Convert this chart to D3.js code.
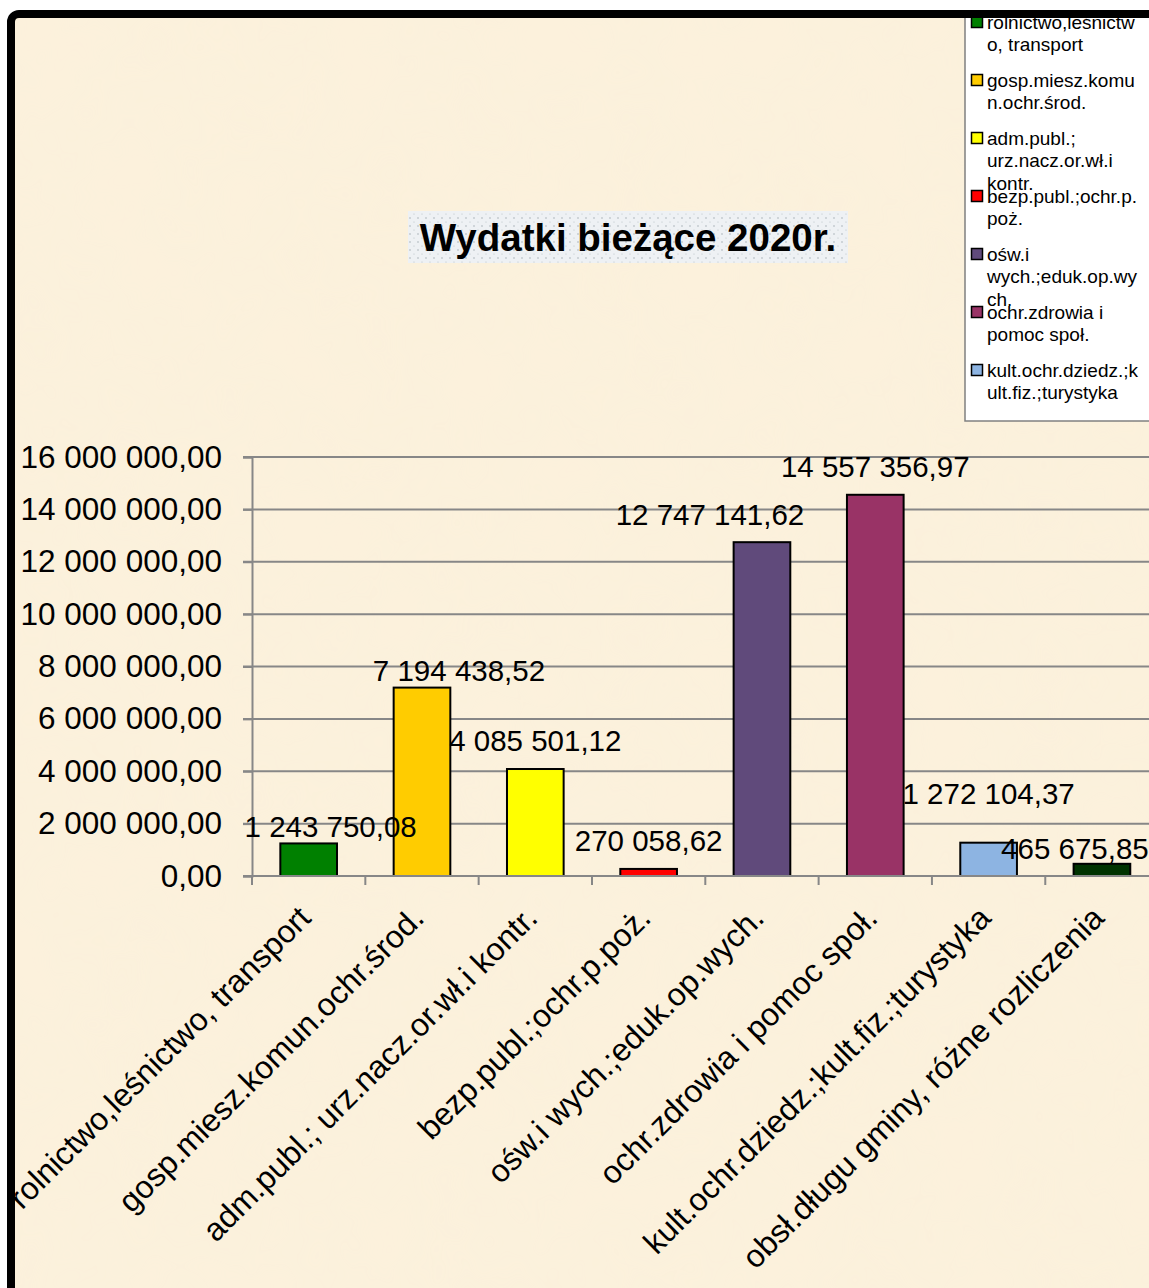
<!DOCTYPE html>
<html>
<head>
<meta charset="utf-8">
<script src="https://cdn.jsdelivr.net/npm/d3@7"></script>
<style>
  body { margin: 0; background: #ffffff; }
  svg { display: block; }
  text { font-family: "Liberation Sans", Arial, sans-serif; fill: #000; }
</style>
</head>
<body>
<script>
var W = 1149, H = 1288;

// data
var categories = [
    'rolnictwo,leśnictwo, transport',
    'gosp.miesz.komun.ochr.środ.',
    'adm.publ.; urz.nacz.or.wł.i kontr.',
    'bezp.publ.;ochr.p.poż.',
    'ośw.i wych.;eduk.op.wych.',
    'ochr.zdrowia i pomoc społ.',
    'kult.ochr.dziedz.;kult.fiz.;turystyka',
    'obsł.długu gminy, różne rozliczenia'
];
var values = [1243750.08, 7194438.52, 4085501.12, 270058.62, 12747141.62, 14557356.97, 1272104.37, 465675.85];
var barColors = ['#008000', '#ffcc00', '#ffff00', '#ff0000', '#604a7b', '#993366', '#8db4e2', '#003300'];
var yMax = 16000000;
var title = 'Wydatki bieżące 2020r.';

// hand-moved data labels (px offsets from default spot above bar)
var labelNudge = [[22, 11], [37, 11], [0, 0], [0, 0], [-52, 0], [0, 0], [0, -21], [-27, 13]];

var plot = { left: 252, right: 1158.6, top: 457, bottom: 876 };

var pl = d3.formatLocale({ decimal: ',', thousands: ' ', grouping: [3], currency: ['', ''] });
var fmt = pl.format(',.2f');

var svg = d3.select('body').append('svg')
    .attr('width', W)
    .attr('height', H);

var defs = svg.append('defs');

defs.append('clipPath').attr('id', 'frameClip')
    .append('rect')
    .attr('x', 11).attr('y', 14)
    .attr('width', W + 20).attr('height', H + 20)
    .attr('rx', 8);

// parchment texture
var paper = defs.append('filter').attr('id', 'paper')
    .attr('x', 0).attr('y', 0).attr('width', '100%').attr('height', '100%');
paper.append('feTurbulence')
    .attr('type', 'fractalNoise')
    .attr('baseFrequency', 0.012)
    .attr('numOctaves', 3)
    .attr('seed', 4)
    .attr('result', 'noise');
paper.append('feColorMatrix')
    .attr('in', 'noise')
    .attr('type', 'matrix')
    .attr('values', '0 0 0 0 0.93  0 0 0 0 0.86  0 0 0 0 0.70  0 0 0 0.22 0')
    .attr('result', 'tint');
paper.append('feComposite').attr('in', 'tint').attr('in2', 'SourceGraphic').attr('operator', 'in');

// dotted title backdrop
var dots = defs.append('pattern').attr('id', 'dots')
    .attr('width', 8).attr('height', 8)
    .attr('patternUnits', 'userSpaceOnUse');
dots.append('rect').attr('width', 8).attr('height', 8).attr('fill', '#eef1f4');
dots.append('circle').attr('cx', 2).attr('cy', 2).attr('r', 0.7).attr('fill', '#9aa3ab');
dots.append('circle').attr('cx', 6).attr('cy', 6).attr('r', 0.6).attr('fill', '#b8c0c6');

var inner = svg.append('g').attr('clip-path', 'url(#frameClip)');

inner.append('rect')
    .attr('x', 0).attr('y', 0).attr('width', W).attr('height', H)
    .attr('fill', '#fcf1dc');
inner.append('rect')
    .attr('x', 0).attr('y', 0).attr('width', W).attr('height', H)
    .attr('fill', '#fff')
    .attr('filter', 'url(#paper)');

var x = d3.scaleBand()
    .domain(categories)
    .range([plot.left, plot.right])
    .paddingInner(0.5)
    .paddingOuter(0.25);

var y = d3.scaleLinear()
    .domain([0, yMax])
    .range([plot.bottom, plot.top]);

var gridColor = '#878787';

// gridlines
inner.append('g')
    .selectAll('line')
    .data(y.ticks(8))
    .enter()
    .append('line')
    .attr('x1', plot.left - 9)
    .attr('x2', plot.right)
    .attr('y1', function(d) { return y(d); })
    .attr('y2', function(d) { return y(d); })
    .attr('stroke', gridColor)
    .attr('stroke-width', 2);

// y axis
var yAxis = inner.append('g')
    .attr('transform', `translate(${plot.left}, 0)`)
    .call(d3.axisLeft(y).ticks(8).tickFormat(fmt).tickSize(9).tickPadding(21));
yAxis.select('.domain').attr('stroke', gridColor).attr('stroke-width', 2);
yAxis.selectAll('.tick line').attr('stroke', gridColor).attr('stroke-width', 2);
yAxis.selectAll('.tick text')
    .style('font-family', '"Liberation Sans", Arial, sans-serif')
    .style('font-size', '31.5px')
    .attr('fill', '#000');

// x axis ticks at band edges
var edges = categories.map(function(c) { return x(c) - x.step() * 0.25; });
edges.push(plot.right);
inner.append('g')
    .selectAll('line')
    .data(edges)
    .enter()
    .append('line')
    .attr('x1', function(d) { return d; })
    .attr('x2', function(d) { return d; })
    .attr('y1', plot.bottom)
    .attr('y2', plot.bottom + 9)
    .attr('stroke', gridColor)
    .attr('stroke-width', 2);

// bars
inner.append('g')
    .selectAll('rect')
    .data(values)
    .enter()
    .append('rect')
    .attr('x', function(d, i) { return x(categories[i]); })
    .attr('y', function(d) { return y(d); })
    .attr('width', x.bandwidth())
    .attr('height', function(d) { return y(0) - y(d); })
    .attr('fill', function(d, i) { return barColors[i]; })
    .attr('stroke', '#000')
    .attr('stroke-width', 2);

// x axis line
inner.append('line')
    .attr('x1', plot.left - 9).attr('x2', plot.right)
    .attr('y1', plot.bottom).attr('y2', plot.bottom)
    .attr('stroke', gridColor).attr('stroke-width', 2);

// data labels
inner.append('g')
    .selectAll('text')
    .data(values)
    .enter()
    .append('text')
    .attr('x', function(d, i) { return x(categories[i]) + x.bandwidth() / 2 + labelNudge[i][0]; })
    .attr('y', function(d, i) { return y(d) - 28 + labelNudge[i][1]; })
    .attr('dy', '0.35em')
    .attr('text-anchor', 'middle')
    .style('font-size', '29.5px')
    .text(function(d) { return fmt(d); });

// category labels
inner.append('g')
    .selectAll('text')
    .data(categories)
    .enter()
    .append('text')
    .attr('transform', function(d) {
        return `translate(${x(d) + x.bandwidth() / 2 - 4}, ${plot.bottom + 36}) rotate(-45)`;
    })
    .attr('text-anchor', 'end')
    .attr('dy', '0.35em')
    .style('font-size', '32px')
    .text(function(d) { return d; });

// title
inner.append('rect')
    .attr('x', 408).attr('y', 211).attr('width', 440).attr('height', 52)
    .attr('fill', 'url(#dots)');
inner.append('text')
    .attr('x', 628).attr('y', 251)
    .attr('text-anchor', 'middle')
    .style('font-size', '38.5px')
    .style('font-weight', 700)
    .text(title);

// legend (only the first seven entries fit in the box)
var legend = inner.append('g').attr('transform', 'translate(965, 0)');
legend.append('rect')
    .attr('x', 0).attr('y', -20).attr('width', 200).attr('height', 441)
    .attr('fill', '#fff')
    .attr('stroke', '#808080')
    .attr('stroke-width', 1.5);

var legendMax = 158;

function wrapLines(textSel, str) {
    var lines = [];
    var line = '';
    function fits(s) {
        textSel.text(s);
        return textSel.node().getComputedTextLength() <= legendMax;
    }
    str.split(' ').forEach(function(w) {
        var cand = line ? line + ' ' + w : w;
        if (fits(cand)) { line = cand; return; }
        if (line) { lines.push(line); line = ''; }
        if (fits(w)) { line = w; return; }
        // word too long: break it by characters
        var rest = w;
        while (!fits(rest)) {
            var k = rest.length;
            while (k > 1 && !fits(rest.slice(0, k))) k--;
            lines.push(rest.slice(0, k));
            rest = rest.slice(k);
        }
        line = rest;
    });
    if (line) lines.push(line);
    textSel.text('');
    return lines;
}

var legendItems = legend.selectAll('g.item')
    .data(categories.slice(0, 7))
    .enter()
    .append('g')
    .attr('class', 'item')
    .attr('transform', function(d, i) { return `translate(0, ${22 + i * 58})`; });

legendItems.append('rect')
    .attr('x', 6.5).attr('y', -5.5)
    .attr('width', 11).attr('height', 11)
    .attr('fill', function(d, i) { return barColors[i]; })
    .attr('stroke', '#000')
    .attr('stroke-width', 1.5);

legendItems.each(function(d) {
    var t = d3.select(this).append('text')
        .attr('x', 22)
        .attr('y', 0)
        .attr('dy', '0.35em')
        .style('font-size', '19px');
    var lines = wrapLines(t, d);
    t.selectAll('tspan')
        .data(lines)
        .enter()
        .append('tspan')
        .attr('x', 22)
        .attr('y', function(l, j) { return j * 22.5; })
        .attr('dy', '0.35em')
        .text(function(l) { return l; });
});

// frame
svg.append('rect')
    .attr('x', 11).attr('y', 14)
    .attr('width', W + 20).attr('height', H + 20)
    .attr('rx', 8)
    .attr('fill', 'none')
    .attr('stroke', '#000')
    .attr('stroke-width', 8);
</script>
</body>
</html>
